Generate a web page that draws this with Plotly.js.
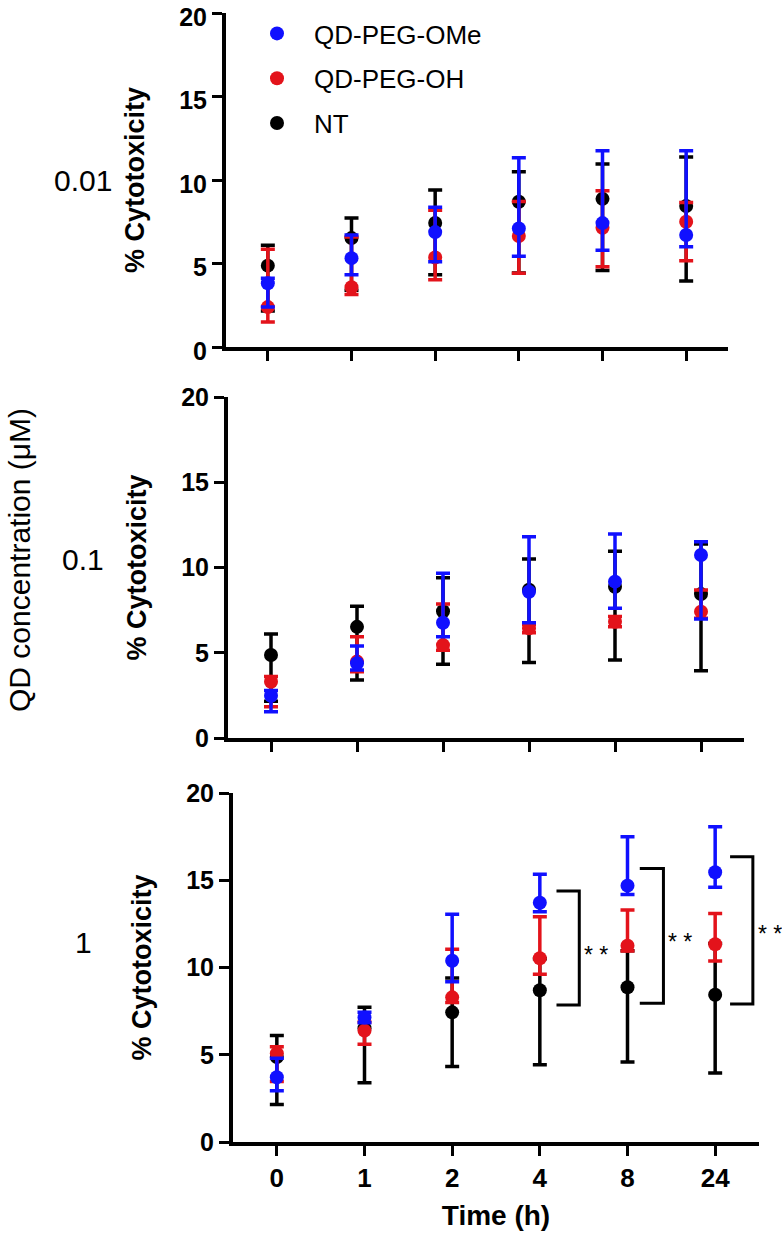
<!DOCTYPE html>
<html>
<head>
<meta charset="utf-8">
<script src="https://cdn.plot.ly/plotly-3.0.1.min.js"></script>
<style>
  html, body { margin: 0; padding: 0; background: #ffffff; }
  #chart { width: 782px; height: 1236px; }
</style>
</head>
<body>
<div id="chart"></div>
<script>
// ---------- DATA ----------
const times = ['0', '1', '2', '4', '8', '24'];
const seriesNames = ['QD-PEG-OMe', 'QD-PEG-OH', 'NT'];
const concLabels = ['0.01', '0.1', '1'];

// NT (untreated) – identical in every panel
const ntMean  = [4.87, 6.52, 7.43, 8.70, 8.87, 8.44];
const ntPlus  = [1.23, 1.20, 1.97, 1.80, 2.09, 2.94];
const ntMinus = [2.72, 3.12, 3.10, 4.27, 4.29, 4.49];

// 0.01 µM
const ome001Mean  = [3.82, 5.32, 6.88, 7.10, 7.42, 6.71];
const ome001Plus  = [0.30, 1.39, 1.49, 4.23, 4.33, 5.04];
const ome001Minus = [1.43, 0.99, 1.78, 1.66, 1.62, 0.70];
const oh001Mean   = [2.39, 3.58, 5.36, 6.65, 7.14, 7.50];
const oh001Plus   = [3.47, 3.01, 2.83, 2.07, 2.22, 1.16];
const oh001Minus  = [0.89, 0.43, 1.34, 2.24, 2.33, 2.34];

// 0.1 µM
const ome01Mean  = [2.48, 4.38, 6.76, 8.58, 9.17, 10.73];
const ome01Plus  = [0.30, 1.02, 2.90, 3.23, 2.79, 0.78];
const ome01Minus = [0.94, 0.39, 0.82, 1.82, 1.56, 3.75];
const oh01Mean   = [3.30, 4.48, 5.45, 6.43, 6.82, 7.41];
const oh01Plus   = [0.30, 1.46, 2.41, 0.22, 0.30, 1.27];
const oh01Minus  = [1.46, 0.59, 0.30, 0.25, 0.30, 0.39];

// 1 µM
const ome1Mean  = [3.71, 7.14, 10.39, 13.71, 14.69, 15.46];
const ome1Plus  = [1.09, 0.30, 2.66, 1.63, 2.81, 2.61];
const ome1Minus = [0.77, 0.30, 1.20, 0.51, 0.50, 0.86];
const oh1Mean   = [5.08, 6.38, 8.29, 10.53, 11.25, 11.33];
const oh1Plus   = [0.38, 0.50, 2.75, 2.38, 2.05, 1.77];
const oh1Minus  = [1.62, 0.78, 0.30, 0.92, 0.30, 0.96];

// significance brackets (1 µM panel, category index units / % values)
const sigLeft   = [3.19, 4.14, 5.17];
const sigRight  = [3.45, 4.41, 5.43];
const sigTop    = [14.38, 15.68, 16.35];
const sigBottom = [7.85, 7.95, 7.91];
const sigLabelY = [10.7, 11.45, 11.9];
const sigText   = ['* *', '* *', '* *'];

// ---------- STYLE ----------
const FONT = 'Arial, "Liberation Sans", sans-serif';
const colors = {ome: '#1010ff', oh: '#e3131b', nt: '#000000'};
const ranks = {'QD-PEG-OMe': 1, 'QD-PEG-OH': 2, 'NT': 3};
const W = 782, H = 1236;

function mk(name, x, y, plus, minus, color, xa, ya, showleg) {
  return {
    type: 'scatter', mode: 'markers', name: name,
    x: x, y: y, xaxis: xa, yaxis: ya,
    showlegend: showleg, legendgroup: name, legendrank: ranks[name],
    marker: {color: color, size: 14},
    error_y: {type: 'data', symmetric: false, array: plus, arrayminus: minus,
              color: color, thickness: 3.5, width: 7},
    hoverinfo: 'x+y+name'
  };
}

const panels = [
  {xa: 'x',  ya: 'y',  ome: [ome001Mean, ome001Plus, ome001Minus], oh: [oh001Mean, oh001Plus, oh001Minus]},
  {xa: 'x2', ya: 'y2', ome: [ome01Mean,  ome01Plus,  ome01Minus],  oh: [oh01Mean,  oh01Plus,  oh01Minus]},
  {xa: 'x3', ya: 'y3', ome: [ome1Mean,   ome1Plus,   ome1Minus],   oh: [oh1Mean,   oh1Plus,   oh1Minus]}
];

const traces = [];
panels.forEach((p, i) => {
  const leg = i === 0;
  traces.push(mk(seriesNames[2], times, ntMean, ntPlus, ntMinus, colors.nt, p.xa, p.ya, leg));
  traces.push(mk(seriesNames[1], times, p.oh[0], p.oh[1], p.oh[2], colors.oh, p.xa, p.ya, leg));
  traces.push(mk(seriesNames[0], times, p.ome[0], p.ome[1], p.ome[2], colors.ome, p.xa, p.ya, leg));
});

// pixel boxes of the three plot areas [left, right, top, bottom]
const boxes = [[226, 728, 13, 347], [228, 744, 397, 738], [233, 759, 793, 1142]];

function xAxis(i, labels) {
  const b = boxes[i];
  return {
    domain: [b[0] / W, b[1] / W], anchor: i === 0 ? 'y' : 'y' + (i + 1),
    type: 'category', categoryorder: 'array', categoryarray: times,
    range: [-0.5, 5.5],
    showline: true, linewidth: 4, linecolor: '#000',
    ticks: 'outside', ticklen: 10, tickwidth: 3, tickcolor: '#000',
    showticklabels: labels,
    tickfont: {family: FONT, size: 26, color: '#000', weight: 'bold'},
    showgrid: false, zeroline: false, fixedrange: true,
    title: labels ? {text: 'Time (h)', font: {family: FONT, size: 28, color: '#000', weight: 'bold'}, standoff: 14} : {text: ''}
  };
}
function yAxis(i) {
  const b = boxes[i];
  return {
    domain: [(H - b[3]) / H, (H - b[2]) / H], anchor: i === 0 ? 'x' : 'x' + (i + 1),
    range: [0, 20], tickvals: [0, 5, 10, 15, 20],
    showline: true, linewidth: 4, linecolor: '#000',
    ticks: 'outside', ticklen: 10, tickwidth: 3, tickcolor: '#000',
    ticklabeloverflow: 'allow', ticklabelshift: i === 0 ? 4 : 0,
    tickfont: {family: FONT, size: 25, color: '#000', weight: 'bold'},
    showgrid: false, zeroline: false, fixedrange: true,
    title: {text: '% Cytotoxicity', font: {family: FONT, size: 27, color: '#000', weight: 'bold'}, standoff: 28}
  };
}

const shapes = sigLeft.map((x0, k) => ({
  type: 'path', xref: 'x3', yref: 'y3',
  path: `M ${x0},${sigTop[k]} L ${sigRight[k]},${sigTop[k]} L ${sigRight[k]},${sigBottom[k]} L ${x0},${sigBottom[k]}`,
  line: {color: '#000', width: 3}
}));

const annotations = sigText.map((t, k) => ({
  xref: 'x3', yref: 'y3', x: sigRight[k], y: sigLabelY[k],
  xanchor: 'left', yanchor: 'middle', xshift: 3, showarrow: false,
  text: t, font: {family: FONT, size: 23, color: '#000'}
}));

// concentration labels
const concY = [180, 560, 942];
concLabels.forEach((t, k) => annotations.push({
  xref: 'paper', yref: 'paper', x: 83 / W, y: (H - concY[k]) / H,
  xanchor: 'center', yanchor: 'middle', showarrow: false,
  text: t, font: {family: FONT, size: 30, color: '#000'}
}));
annotations.push({
  xref: 'paper', yref: 'paper', x: 20 / W, y: (H - 560) / H,
  xanchor: 'center', yanchor: 'middle', showarrow: false, textangle: -90,
  text: 'QD concentration (μM)', font: {family: FONT, size: 30, color: '#000'}
});

const layout = {
  width: W, height: H,
  margin: {l: 0, r: 0, t: 0, b: 0},
  paper_bgcolor: '#fff', plot_bgcolor: 'rgba(0,0,0,0)',
  showlegend: true,
  legend: {
    x: 240 / W, y: (H - 10) / H, xanchor: 'left', yanchor: 'top',
    traceorder: 'grouped', tracegroupgap: 8, itemwidth: 64,
    bgcolor: 'rgba(0,0,0,0)', borderwidth: 0,
    font: {family: FONT, size: 26, color: '#000'}
  },
  xaxis: xAxis(0, false), yaxis: yAxis(0),
  xaxis2: xAxis(1, false), yaxis2: yAxis(1),
  xaxis3: xAxis(2, true), yaxis3: yAxis(2),
  shapes: shapes, annotations: annotations
};

Plotly.newPlot('chart', traces, layout, {displayModeBar: false, staticPlot: true});
</script>
</body>
</html>
